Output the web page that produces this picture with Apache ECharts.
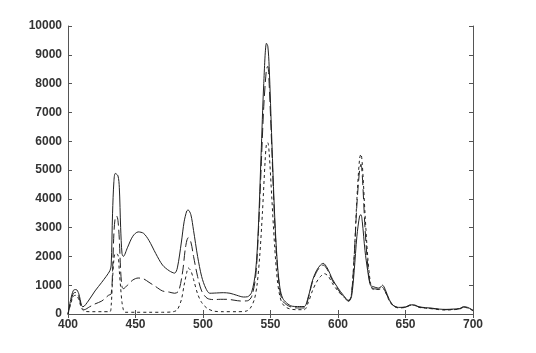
<!DOCTYPE html>
<html><head><meta charset="utf-8">
<script src="https://cdn.jsdelivr.net/npm/echarts@6/dist/echarts.min.js"></script>
<style>html,body{margin:0;padding:0;background:#fff}#c{width:536px;height:353px}</style>
</head><body><div id="c"></div>
<script>
var xTicks = [400,450,500,550,600,650,700];
var yTicks = [0,1000,2000,3000,4000,5000,6000,7000,8000,9000,10000];

var solidX = [400,402,404,406,408,410,411,415,420,425,431,432,433,434,435,437,438,439,440,441,444,448,452,456,460,465,470,475,479,481,484,486,488,489,491,493,496,499,502,505,510,515,520,525,530,533,536,539,541,543,545,547,548,549,551,553,555,557,559,562,566,570,575,578,581,584,587,589,592,596,600,604,608,610,612,614,616,617,618,620,622,624,626,628,630,632,633,635,638,641,645,650,653,656,660,665,670,675,680,685,690,693,696,700];
var solidY = [0,500,820,850,700,300,250,450,800,1100,1500,1700,3500,4600,4880,4800,4400,3000,2100,2000,2300,2700,2850,2800,2550,2100,1700,1500,1420,1600,2500,3200,3580,3610,3450,2900,2000,1300,900,720,730,740,720,650,590,600,750,1500,3000,5500,8000,9400,9300,8600,6000,3500,1800,900,550,380,270,260,260,600,1150,1500,1700,1760,1600,1200,900,650,460,600,1500,2700,3400,3450,3200,2200,1500,1000,950,920,900,950,1000,850,500,300,230,240,310,320,250,220,200,170,160,170,190,250,230,130];

var dashX = [400,402,404,406,408,410,412,416,420,425,430,432,433,434,435,436,437,438,439,440,441,444,448,452,456,460,465,470,475,479,482,485,487,489,491,493,496,499,503,508,513,518,523,528,533,536,539,541,543,545,547,548,549,551,553,555,557,559,562,566,570,575,578,581,584,587,589,592,596,600,604,608,610,612,614,616,617,618,620,622,624,626,628,630,633,635,638,641,645,650,653,656,660,665,670,675,680,685,690,693,696,700];
var dashY = [0,400,720,750,600,250,150,250,350,450,650,700,1500,2800,3350,3400,3250,2600,1500,950,880,1000,1180,1250,1220,1100,950,800,760,720,800,1500,2300,2650,2500,2000,1300,800,550,500,510,510,480,450,460,600,1300,2800,5000,7200,8500,8600,8000,5700,3300,1700,800,450,320,230,210,210,550,1100,1450,1650,1700,1550,1150,850,600,440,700,2000,3800,5000,5200,4800,3000,1700,1000,880,870,850,900,780,480,290,220,240,300,310,240,210,190,160,150,160,180,240,220,120];

var dotX = [400,402,404,406,408,410,412,416,420,425,431,432,433,434,435,437,438,439,440,441,442,450,460,470,478,481,484,486,488,489,491,493,496,499,503,508,515,525,532,535,538,540,542,544,546,547,548,549,551,553,555,557,559,562,566,570,575,578,581,584,587,590,593,596,600,604,608,610,612,614,616,617,618,620,622,624,626,628,630,633,635,638,641,645,650,653,656,660,665,670,675,680,685,690,693,696,700];
var dotY = [0,350,620,650,500,200,100,80,80,80,80,300,1200,1900,2100,2050,1500,900,400,150,60,60,60,60,80,150,500,1000,1450,1600,1500,1200,700,400,200,100,80,80,100,200,500,1000,2000,3500,5300,5900,5950,5600,4000,2400,1200,600,350,220,160,150,150,400,800,1100,1300,1400,1300,1050,800,600,480,700,2000,4000,5400,5550,5200,3500,2000,1100,850,860,860,920,780,460,280,210,230,290,300,230,200,180,150,140,150,170,230,210,110];

function pairs(xs, ys){ return xs.map(function(x,i){ return [x, ys[i]]; }); }

var chart = echarts.init(document.getElementById('c'), null, {renderer:'canvas'});
var axisLine = {show:true, lineStyle:{color:'#555', width:1}};
var tick = {show:true, inside:true, length:4, lineStyle:{color:'#555'}};
var lbl = {color:'#333', fontFamily:'Liberation Sans, Arial, sans-serif', fontSize:12, fontWeight:'bold', formatter:function(v){ return String(v); }};
chart.setOption({
  animation:false,
  backgroundColor:'#fff',
  grid:{left:68, right:63, top:26, bottom:39, containLabel:false},
  xAxis:[
    {type:'value', min:400, max:700, interval:50, position:'bottom', axisLine:axisLine, axisTick:tick, splitLine:{show:false},
     axisLabel:Object.assign({margin:5}, lbl)},
    {type:'value', min:400, max:700, interval:50, position:'top', axisLine:axisLine, axisTick:tick, splitLine:{show:false}, axisLabel:{show:false}}
  ],
  yAxis:[
    {type:'value', min:0, max:10000, interval:1000, position:'left', axisLine:axisLine, axisTick:tick, splitLine:{show:false},
     axisLabel:Object.assign({margin:6}, lbl)},
    {type:'value', min:0, max:10000, interval:1000, position:'right', axisLine:axisLine, axisTick:tick, splitLine:{show:false}, axisLabel:{show:false}}
  ],
  series:[
    {type:'line', data:pairs(solidX, solidY), showSymbol:false, smooth:0.3, lineStyle:{color:'#222', width:1, type:'solid'}},
    {type:'line', data:pairs(dashX, dashY), showSymbol:false, smooth:0.3, lineStyle:{color:'#222', width:1, type:[10,4]}},
    {type:'line', data:pairs(dotX, dotY), showSymbol:false, smooth:0.3, lineStyle:{color:'#222', width:1, type:[3,3]}}
  ]
});
</script></body></html>
